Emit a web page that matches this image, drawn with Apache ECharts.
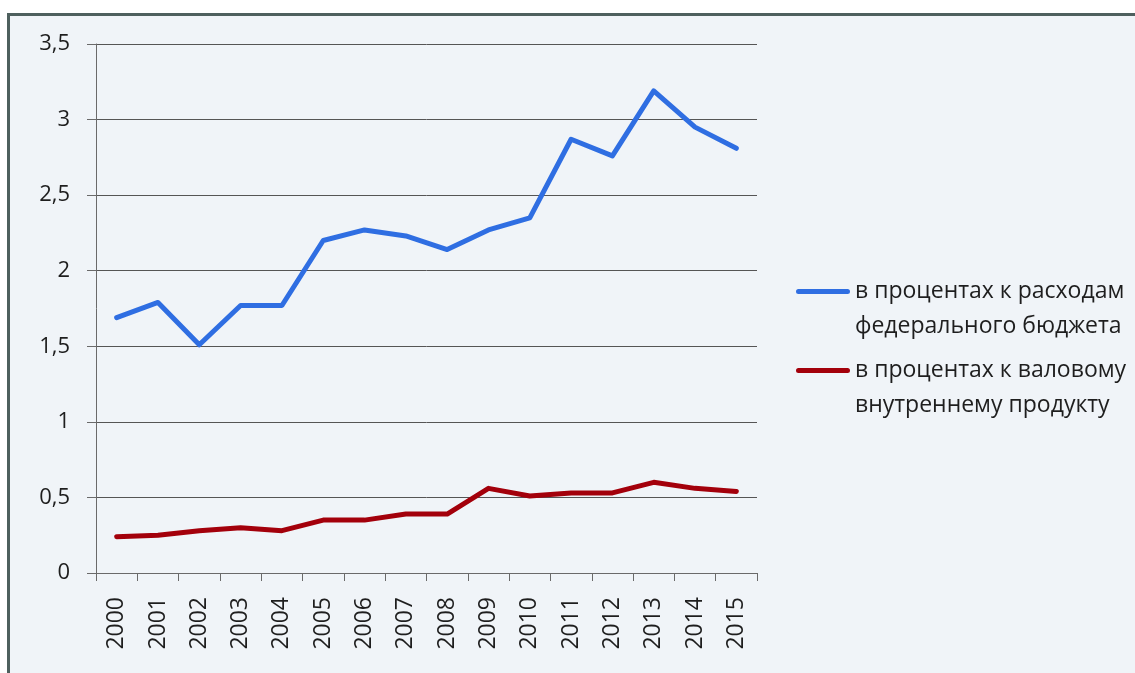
<!DOCTYPE html>
<html>
<head>
<meta charset="utf-8">
<script src="https://cdn.jsdelivr.net/npm/echarts@6/dist/echarts.min.js"></script>
<style>
html,body{margin:0;padding:0;background:#ffffff;}
#chart{width:1135px;height:673px;}
</style>
</head>
<body>
<div id="chart"></div>
<script>
const years = ['2000','2001','2002','2003','2004','2005','2006','2007','2008','2009','2010','2011','2012','2013','2014','2015'];
const budgetShare = [1.69,1.79,1.51,1.77,1.77,2.20,2.27,2.23,2.14,2.27,2.35,2.87,2.76,3.19,2.95,2.81];
const gdpShare = [0.24,0.25,0.28,0.30,0.28,0.35,0.35,0.39,0.39,0.56,0.51,0.53,0.53,0.60,0.56,0.54];
const seriesNames = ['в процентах к расходам\nфедерального бюджета','в процентах к валовому\nвнутреннему продукту'];
const yTicks = [0,0.5,1,1.5,2,2.5,3,3.5];

const chart = echarts.init(document.getElementById('chart'), null, {renderer:'canvas'});
const FONT = '"Open Sans", sans-serif';
chart.setOption({
  backgroundColor:'#ffffff',
  animation:false,
  graphic:[
    {type:'rect', z:-10, shape:{x:9,y:14,width:1130,height:670}, style:{fill:'#f0f4f8'}},
    {type:'rect', z:-9, shape:{x:8,y:13,width:1130,height:3}, style:{fill:'#4e605e'}},
    {type:'rect', z:-9, shape:{x:7,y:13,width:3,height:670}, style:{fill:'#4e605e'}}
  ],
  grid:{left:96,right:378,top:44,bottom:100,containLabel:false},
  legend:{
    orient:'vertical',
    left:796, top:274,
    padding:0,
    itemWidth:54, itemHeight:40,
    itemGap:9,
    icon:'path://M2.5,0 L51.5,0 A2.5,2.5 0 0 1 51.5,5 L2.5,5 A2.5,2.5 0 0 1 2.5,0 Z M0,40 L0.01,40 Z',
    data:seriesNames,
    textStyle:{fontFamily:FONT,fontSize:23,color:'#1e1e1e',lineHeight:35}
  },
  xAxis:{
    type:'category',
    data:years,
    boundaryGap:true,
    axisLine:{lineStyle:{color:'#6a6a6a',width:1}},
    axisTick:{show:true,length:8,inside:false,lineStyle:{color:'#6a6a6a'}},
    axisLabel:{rotate:90,margin:24,fontFamily:FONT,fontSize:23,color:'#1e1e1e',interval:0}
  },
  yAxis:{
    type:'value',
    min:0,max:3.5,interval:0.5,
    axisLine:{show:true,lineStyle:{color:'#6a6a6a',width:1}},
    axisTick:{show:true,length:9,lineStyle:{color:'#6a6a6a'}},
    splitLine:{show:true,lineStyle:{color:'#555',width:1}},
    axisLabel:{margin:26,fontFamily:FONT,fontSize:22,color:'#1e1e1e',
      formatter:function(v){return yTicks.indexOf(v)>=0 ? String(v).replace('.',',') : '';}}
  },
  series:[
    {name:seriesNames[0],type:'line',data:budgetShare,symbol:'none',
     lineStyle:{color:'#2f6ee2',width:5,cap:'round',join:'round'},itemStyle:{color:'#2f6ee2'}},
    {name:seriesNames[1],type:'line',data:gdpShare,symbol:'none',
     lineStyle:{color:'#a3000b',width:5,cap:'round',join:'round'},itemStyle:{color:'#a3000b'}}
  ]
});
</script>
</body>
</html>
